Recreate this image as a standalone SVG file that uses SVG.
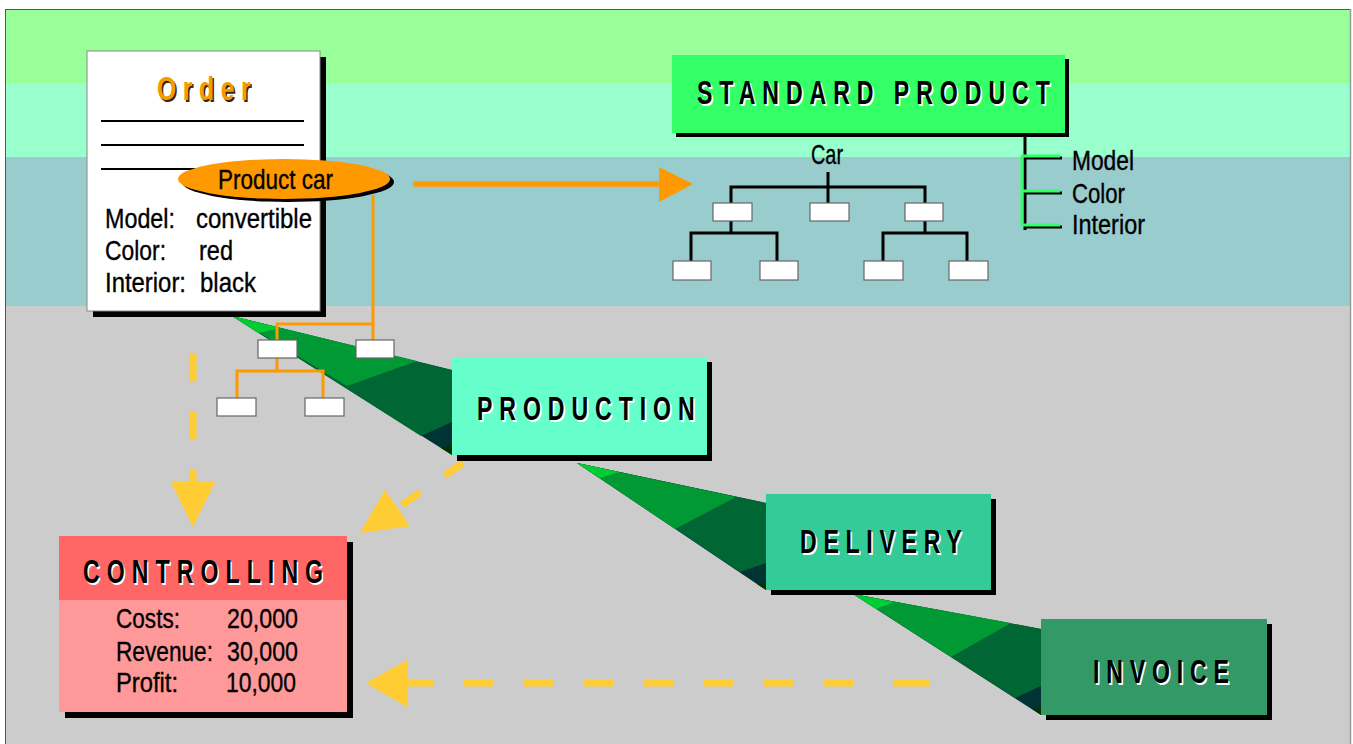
<svg xmlns="http://www.w3.org/2000/svg" width="1353" height="744" viewBox="0 0 1353 744">
<style>
.t{font-family:"Liberation Sans",Arial,sans-serif;fill:#000}
.b{font-size:27.5px;stroke:#000;stroke-width:0.35}
.ttl{font-size:33px;font-weight:bold}
.sh{fill:#fff}
.tb{fill:#fff;stroke:#666;stroke-width:1.2}
.ol{stroke:#ff9900;stroke-width:3;fill:none}
.bl{stroke:#000;stroke-width:3;fill:none}
.yd{stroke:#ffcc33;stroke-width:7;fill:none}
.ya{fill:#ffcc33}
</style>
<g id="background">
<rect x="5" y="9" width="1345" height="74" fill="#99ff99"/>
<rect x="5" y="83" width="1345" height="74" fill="#99ffcc"/>
<rect x="5" y="157" width="1345" height="149" fill="#99cccc"/>
<rect x="5" y="306" width="1345" height="438" fill="#cccccc"/>
<line x1="5" y1="9.5" x2="1350" y2="9.5" stroke="#555" stroke-width="1"/>
<line x1="5.5" y1="9" x2="5.5" y2="744" stroke="#555" stroke-width="1"/>
<line x1="1350.5" y1="9" x2="1350.5" y2="744" stroke="#999" stroke-width="1.5"/>
</g>
<g id="wedges">
<g id="wedge1">
<polygon points="232,316 452,370 452,455" fill="#003333"/>
<polygon points="232,316 452,370 452,422 421,436" fill="#006633"/>
<polygon points="232,316 417,361 347,386" fill="#009933"/>
<polygon points="232,316 280,328 258,333" fill="#00cc33"/>
<polygon points="441,448 452,455 452,445" fill="#003300"/>
</g>
<g id="wedge2">
<polygon points="577,463 766,503 766,590" fill="#003333"/>
<polygon points="577,463 766,503 766,563 740,572" fill="#006633"/>
<polygon points="577,463 736,497 675,529" fill="#009933"/>
<polygon points="577,463 619,472 600,478" fill="#00cc33"/>
<polygon points="757,584 766,590 766,583" fill="#003300"/>
</g>
<g id="wedge3">
<polygon points="853,594 1041,629 1041,715" fill="#003333"/>
<polygon points="853,594 1041,629 1041,686 1015,698" fill="#006633"/>
<polygon points="853,594 1011,623 951,657" fill="#009933"/>
<polygon points="853,594 894,602 876,609" fill="#00cc33"/>
<polygon points="1032,709 1041,715 1041,708" fill="#003300"/>
</g>
</g>
<g id="connectors">
<polyline class="ol" points="373,195 373,340"/>
<polyline class="ol" points="277,340 277,324 373,324"/>
<polyline class="ol" points="277,358 277,371"/>
<polyline class="ol" points="237,398 237,371 323,371 323,398"/>
<line x1="413" y1="184" x2="662" y2="184" stroke="#ff9900" stroke-width="5.5"/>
<polygon points="659,167 693,184 659,202" fill="#ff9900"/>
<line class="bl" x1="828" y1="172" x2="828" y2="203"/>
<polyline class="bl" points="731,203 731,187 925,187 925,203"/>
<polyline class="bl" points="731,221 731,233"/>
<polyline class="bl" points="691,261 691,233 777,233 777,261"/>
<polyline class="bl" points="925,221 925,233"/>
<polyline class="bl" points="883,261 883,233 967,233 967,261"/>
<g id="attr-lines">
<polyline points="1025,135 1025,230" stroke="#000" stroke-width="3" fill="none"/>
<line x1="1025" y1="158" x2="1062" y2="158" stroke="#000" stroke-width="3"/>
<line x1="1025" y1="193" x2="1062" y2="193" stroke="#000" stroke-width="3"/>
<line x1="1025" y1="227" x2="1062" y2="227" stroke="#000" stroke-width="3"/>
<polyline points="1022,155 1022,226" stroke="#33ff66" stroke-width="3" fill="none"/>
<line x1="1022" y1="156" x2="1060" y2="156" stroke="#33ff66" stroke-width="3"/>
<line x1="1022" y1="191" x2="1060" y2="191" stroke="#33ff66" stroke-width="3"/>
<line x1="1022" y1="225" x2="1060" y2="225" stroke="#33ff66" stroke-width="3"/>
</g>
<line class="yd" x1="193" y1="353" x2="193" y2="484" stroke-dasharray="29 29"/>
<polygon class="ya" points="171,482 215,482 193,527"/>
<line class="yd" x1="463" y1="463" x2="399" y2="507" stroke-dasharray="22 30"/>
<polygon class="ya" points="385,490 410,526 360,533"/>
<line class="yd" x1="404" y1="683" x2="860" y2="683" stroke-dasharray="30 30"/>
<line class="yd" x1="894" y1="683" x2="929" y2="683"/>
<polygon class="ya" points="407,660 407,707 366,683"/>
</g>
<g id="order">
<rect x="93" y="57" width="233" height="260" fill="#000"/>
<rect x="87" y="51" width="233" height="260" fill="#fff" stroke="#888" stroke-width="1"/>
<text class="t" transform="translate(158.5,101.5) scale(0.75,1)" x="0" y="0" font-size="33" font-weight="bold" textLength="125" lengthAdjust="spacing" style="fill:#3a2500">Order</text>
<text class="t" transform="translate(157,100) scale(0.75,1)" x="0" y="0" font-size="33" font-weight="bold" textLength="125" lengthAdjust="spacing" style="fill:#f39c00">Order</text>
<line x1="101" y1="121" x2="304" y2="121" stroke="#000" stroke-width="2"/>
<line x1="101" y1="145" x2="304" y2="145" stroke="#000" stroke-width="2"/>
<line x1="101" y1="169" x2="200" y2="169" stroke="#000" stroke-width="2"/>
<text class="t b" x="105" y="228" textLength="70" lengthAdjust="spacingAndGlyphs">Model:</text>
<text class="t b" x="196" y="228" textLength="116" lengthAdjust="spacingAndGlyphs">convertible</text>
<text class="t b" x="105" y="260" textLength="61" lengthAdjust="spacingAndGlyphs">Color:</text>
<text class="t b" x="199" y="260" textLength="34" lengthAdjust="spacingAndGlyphs">red</text>
<text class="t b" x="105" y="292" textLength="81" lengthAdjust="spacingAndGlyphs">Interior:</text>
<text class="t b" x="200" y="292" textLength="56" lengthAdjust="spacingAndGlyphs">black</text>
</g>
<g id="product-car">
<ellipse cx="288" cy="182" rx="106" ry="20" fill="#000"/>
<ellipse cx="284" cy="179" rx="106" ry="20" fill="#ff9900"/>
<text class="t b" x="218" y="189" textLength="115" lengthAdjust="spacingAndGlyphs">Product car</text>
</g>
<g id="order-tree">
<rect class="tb" x="258" y="340" width="39" height="18"/>
<rect class="tb" x="356" y="340" width="38" height="18"/>
<rect class="tb" x="217" y="398" width="39" height="18"/>
<rect class="tb" x="305" y="398" width="39" height="18"/>
</g>
<g id="standard-product">
<rect x="676" y="59" width="393" height="78" fill="#000"/>
<rect x="672" y="55" width="393" height="78" fill="#33ff66"/>
<text class="t ttl sh" transform="translate(698.5,105.5) scale(0.7,1)" x="0" y="0" textLength="504" lengthAdjust="spacing">STANDARD PRODUCT</text>
<text class="t ttl" transform="translate(697,104) scale(0.7,1)" x="0" y="0" textLength="504" lengthAdjust="spacing">STANDARD PRODUCT</text>
</g>
<g id="car-tree">
<text class="t b" x="811" y="164" textLength="32" lengthAdjust="spacingAndGlyphs">Car</text>
<rect class="tb" x="713" y="203" width="39" height="18"/>
<rect class="tb" x="810" y="203" width="39" height="18"/>
<rect class="tb" x="905" y="203" width="38" height="18"/>
<rect class="tb" x="673" y="261" width="38" height="19"/>
<rect class="tb" x="760" y="261" width="38" height="19"/>
<rect class="tb" x="864" y="261" width="39" height="19"/>
<rect class="tb" x="949" y="261" width="39" height="19"/>
</g>
<g id="attributes">
<text class="t b" x="1072" y="170" textLength="62" lengthAdjust="spacingAndGlyphs">Model</text>
<text class="t b" x="1072" y="203" textLength="53" lengthAdjust="spacingAndGlyphs">Color</text>
<text class="t b" x="1072" y="234" textLength="73" lengthAdjust="spacingAndGlyphs">Interior</text>
</g>
<g id="production">
<rect x="457" y="362" width="255" height="99" fill="#000"/>
<rect x="452" y="357" width="255" height="98" fill="#66ffcc"/>
<text class="t ttl sh" transform="translate(478.5,421.5) scale(0.7,1)" x="0" y="0" textLength="311" lengthAdjust="spacing">PRODUCTION</text>
<text class="t ttl" transform="translate(477,420) scale(0.7,1)" x="0" y="0" textLength="311" lengthAdjust="spacing">PRODUCTION</text>
</g>
<g id="delivery">
<rect x="771" y="499" width="225" height="96" fill="#000"/>
<rect x="766" y="494" width="225" height="96" fill="#33cc99"/>
<text class="t ttl sh" transform="translate(801.5,554.5) scale(0.7,1)" x="0" y="0" textLength="231" lengthAdjust="spacing">DELIVERY</text>
<text class="t ttl" transform="translate(800,553) scale(0.7,1)" x="0" y="0" textLength="231" lengthAdjust="spacing">DELIVERY</text>
</g>
<g id="invoice">
<rect x="1046" y="624" width="226" height="96" fill="#000"/>
<rect x="1041" y="619" width="226" height="96" fill="#339966"/>
<text class="t ttl sh" transform="translate(1094.5,684.5) scale(0.7,1)" x="0" y="0" textLength="194" lengthAdjust="spacing">INVOICE</text>
<text class="t ttl" transform="translate(1093,683) scale(0.7,1)" x="0" y="0" textLength="194" lengthAdjust="spacing">INVOICE</text>
</g>
<g id="controlling">
<rect x="65" y="542" width="288" height="176" fill="#000"/>
<rect x="59" y="536" width="288" height="64" fill="#ff6666"/>
<rect x="59" y="600" width="288" height="112" fill="#ff9999"/>
<text class="t ttl sh" transform="translate(84.5,584.5) scale(0.7,1)" x="0" y="0" textLength="343" lengthAdjust="spacing">CONTROLLING</text>
<text class="t ttl" transform="translate(83,583) scale(0.7,1)" x="0" y="0" textLength="343" lengthAdjust="spacing">CONTROLLING</text>
<text class="t b" x="116" y="628" textLength="64" lengthAdjust="spacingAndGlyphs">Costs:</text>
<text class="t b" x="227" y="628" textLength="71" lengthAdjust="spacingAndGlyphs">20,000</text>
<text class="t b" x="116" y="661" textLength="97" lengthAdjust="spacingAndGlyphs">Revenue:</text>
<text class="t b" x="227" y="661" textLength="71" lengthAdjust="spacingAndGlyphs">30,000</text>
<text class="t b" x="116" y="692" textLength="62" lengthAdjust="spacingAndGlyphs">Profit:</text>
<text class="t b" x="226" y="692" textLength="70" lengthAdjust="spacingAndGlyphs">10,000</text>
</g>
</svg>
